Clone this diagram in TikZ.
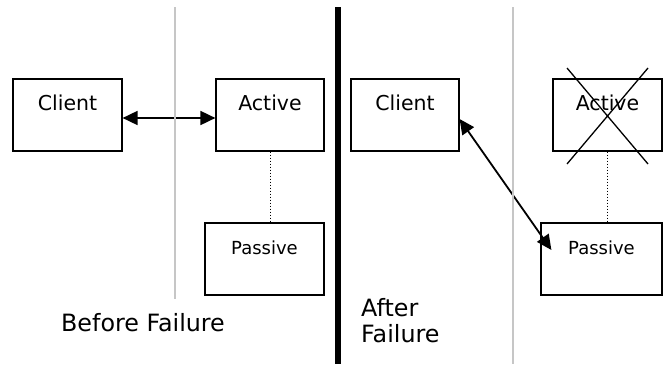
\documentclass[tikz,border=0pt]{standalone}
\usepackage{fontspec}
\setmainfont{DejaVu Sans}
\usetikzlibrary{arrows.meta}
\tikzset{
  srvbox/.style={draw,line width=1.2pt,inner sep=0pt,minimum width=#1,
    text height=31.5pt,text depth=40.5pt,font=\fontsize{20.5}{24}\selectfont},
  pasbox/.style={srvbox=#1,font=\fontsize{18}{22}\selectfont},
  divider/.style={gray!45,line width=1.2pt},
  link/.style={line width=1.8pt,{Triangle[length=15pt,width=14pt]}-{Triangle[length=15pt,width=14pt]}},
  caption/.style={inner sep=0pt,font=\fontsize{23.8}{26}\selectfont}
}
\begin{document}
\begin{tikzpicture}[x=1pt,y=-1pt]
                \useasboundingbox (0,0) rectangle (663,364);
                %% before failure
                \node[srvbox=109pt] (lclient) at (67.5,115) {Client};
                \node[srvbox=108pt] (lactive) at (270,115) {Active};
                \node[pasbox=119pt] (lpassive) at (264.5,259) {Passive};
                \draw[link] ([yshift=-3pt]lclient.east) -- ([yshift=-3pt]lactive.west);
                \draw[dotted,line width=1pt] (lactive.south) -- (lactive.south |- lpassive.north);
                \draw[divider] (175,7) -- (175,299);
                \node[caption] (before) at (143,323) {Before Failure};
                %% separator
                \draw[line width=6pt] (338,7) -- (338,364);
                %% after failure
                \node[srvbox=108pt] (rclient) at (405,115) {Client};
                \node[srvbox=109pt] (ractive) at (607.5,115) {Active};
                \node[pasbox=121pt] (rpassive) at (601.5,259) {Passive};
                \draw[line width=1.3pt] (567,68) -- (648,164) (648,68) -- (567,164);
                \draw[link] ([yshift=-4pt]rclient.east) -- ([xshift=11pt,yshift=9pt]rpassive.west);
                \draw[dotted,line width=1pt] (ractive.south) -- (ractive.south |- rpassive.north);
                \draw[divider] (513,7) -- (513,364);
                \node[caption,anchor=west,align=left] (after) at (361,321) {After\\Failure};
            \end{tikzpicture}
\end{document}
